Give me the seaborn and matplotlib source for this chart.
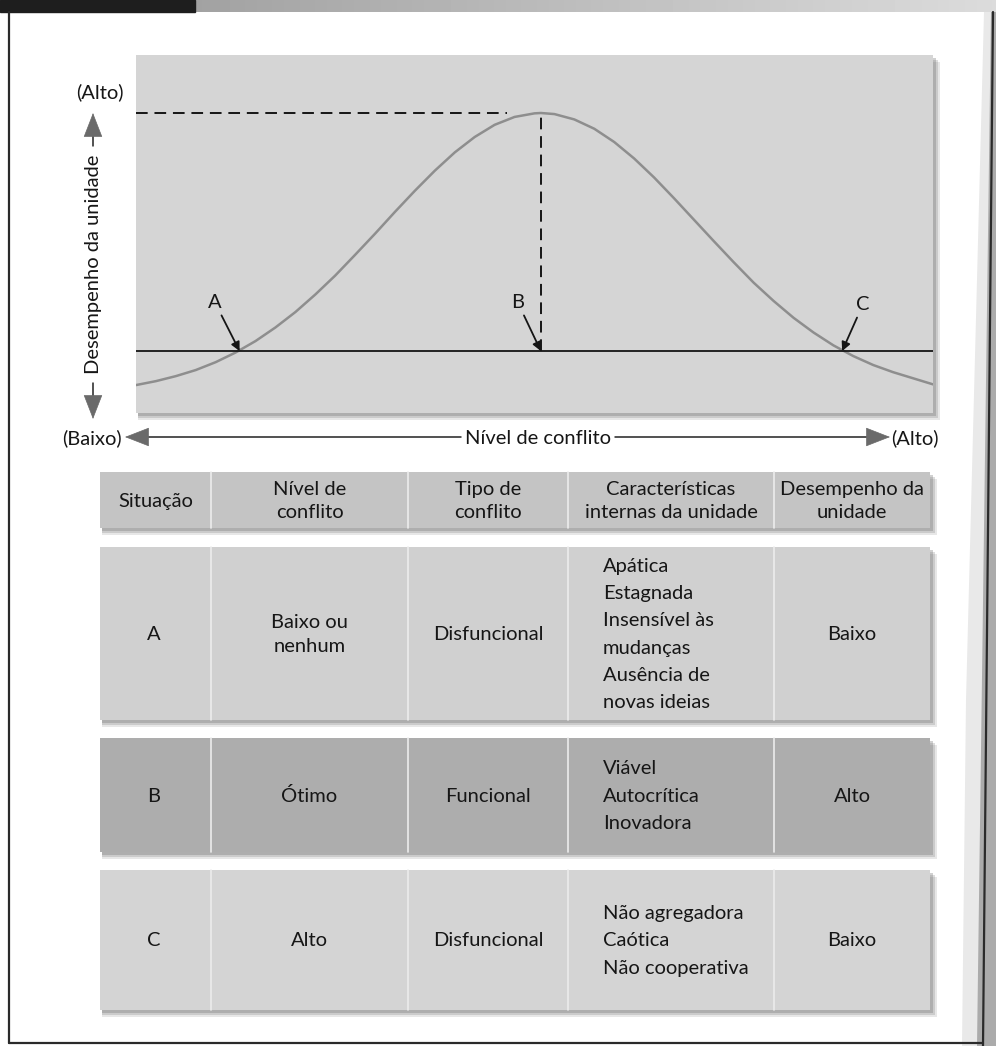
import numpy as np
import matplotlib
matplotlib.use("Agg")
import matplotlib.pyplot as plt
import seaborn as sns
from matplotlib.patches import Rectangle, Polygon

# ========= 1) DADOS =========
conflito = [0, 2.5, 5, 7.5, 10, 12.5, 15, 17.5, 20, 22.5, 25, 27.5, 30, 32.5, 35,
            37.5, 40, 42.5, 45, 47.5, 50, 50.8, 52.5, 55, 57.5, 60, 62.5, 65, 67.5,
            70, 72.5, 75, 77.5, 80, 82.5, 85, 87.5, 90, 92.5, 95, 97.5, 100]
desempenho = [7.8, 8.9, 10.3, 12.0, 14.2, 16.9, 20.1, 23.9, 28.2, 33.1, 38.4, 44.2,
              50.1, 56.2, 62.1, 67.7, 72.8, 77.1, 80.5, 82.7, 83.7, 83.8, 83.5, 82.0,
              79.4, 75.7, 71.1, 65.8, 60.0, 54.0, 48.0, 42.1, 36.4, 31.3, 26.6, 22.5,
              18.9, 15.9, 13.4, 11.4, 9.7, 8.0]
nivel_base = 17.3
pico_x = 50.8
pico_y = 83.8
pontos = ["A", "B", "C"]
pontos_x = [13.0, 50.8, 88.6]

cabecalho = ["Situação", "Nível de\nconflito", "Tipo de\nconflito",
             "Características\ninternas da unidade", "Desempenho da\nunidade"]
situacao = ["A", "B", "C"]
nivel_conflito = ["Baixo ou\nnenhum", "Ótimo", "Alto"]
tipo_conflito = ["Disfuncional", "Funcional", "Disfuncional"]
caracteristicas = [
    ["Apática", "Estagnada", "Insensível às", "mudanças", "Ausência de", "novas ideias"],
    ["Viável", "Autocrítica", "Inovadora"],
    ["Não agregadora", "Caótica", "Não cooperativa"],
]
desempenho_unidade = ["Baixo", "Alto", "Baixo"]

# ========= 2) ESTILO =========
sns.set_style("white")
plt.rcParams["font.family"] = ["Lato", "DejaVu Sans"]
TXT = "#161616"
FS = 14.5
LS = 1.45

W, H = 996, 1046
fig = plt.figure(figsize=(W / 100, H / 100), dpi=100)
fig.patch.set_facecolor("white")

# camada de fundo em pixels (moldura, tabela, eixos desenhados)
ov = fig.add_axes([0, 0, 1, 1], zorder=0)
ov.set_xlim(0, W)
ov.set_ylim(H, 0)
ov.axis("off")

# barra superior e moldura da página
grad = np.linspace(0.58, 0.86, 256).reshape(1, -1)
ov.imshow(grad, extent=[0, W, 12, 0], cmap="gray", vmin=0, vmax=1, aspect="auto", zorder=1)
ov.add_patch(Rectangle((0, 0), 195, 12, color="#1e1e1e", zorder=2))
ov.add_patch(Polygon([(984, 12), (996, 12), (996, H), (962, H), (966, 700)],
                     closed=True, color="#c8c8c8", alpha=0.4, lw=0, zorder=1))
ov.add_patch(Polygon([(991, 12), (996, 12), (996, H), (977, H)],
                     closed=True, color="#9c9c9c", alpha=0.8, lw=0, zorder=1))
ov.plot([9, 9], [12, 1043], color="#2a2a2a", lw=1.6, zorder=3)
ov.plot([9, 983], [1043, 1043], color="#2a2a2a", lw=1.6, zorder=3)
ov.plot([993, 983], [12, H], color="#2a2a2a", lw=1.6, zorder=3)


def caixa(x0, y0, x1, y1, cor):
    for off, al in [(7, 0.18), (5, 0.25), (3, 0.35)]:
        ov.add_patch(Rectangle((x0 + 2, y0 + off), x1 - x0 + off - 2, y1 - y0,
                               color="#7a7a7a", alpha=al, lw=0, zorder=2))
    ov.add_patch(Rectangle((x0, y0), x1 - x0, y1 - y0, color=cor, lw=0, zorder=3))


# sombra da área do gráfico
caixa(136, 55, 933, 413, "#d5d5d5")

# ========= 3) GRÁFICO =========
ax = fig.add_axes([136 / W, 1 - 413 / H, (933 - 136) / W, (413 - 55) / H], zorder=2)
ax.set_facecolor("#d5d5d5")
ax.set_xlim(0, 100)
ax.set_ylim(0, 100)
for s in ax.spines.values():
    s.set_visible(False)
ax.set_xticks([])
ax.set_yticks([])

sns.lineplot(x=conflito, y=desempenho, ax=ax, color="#8e8e8e", lw=1.8, zorder=3)
ax.axhline(nivel_base, color="#151515", lw=1.3, zorder=4)
ax.plot([0, 46.5], [pico_y, pico_y], color="#151515", lw=1.4, ls=(0, (6, 3.5)), zorder=4)
ax.plot([pico_x, pico_x], [nivel_base, pico_y], color="#151515", lw=1.4,
        ls=(0, (6, 3.5)), zorder=4)

offsets = {"A": (-3.1, 13.6), "B": (-2.9, 13.6), "C": (2.6, 13.0)}
for p, px in zip(pontos, pontos_x):
    dx, dy = offsets[p]
    ax.annotate(p, xy=(px, nivel_base), xytext=(px + dx, nivel_base + dy),
                ha="center", va="center", fontsize=FS, color=TXT,
                arrowprops=dict(arrowstyle="-|>", color="#151515", lw=1.3,
                                mutation_scale=13, shrinkA=1, shrinkB=0))

# ========= 4) EIXOS DESENHADOS =========
def seta(tip, base):
    ov.annotate("", xy=tip, xytext=base,
                arrowprops=dict(arrowstyle="-|>,head_length=0.9,head_width=0.35",
                                color="#6a6a6a", lw=0.5, mutation_scale=18,
                                shrinkA=0, shrinkB=0), zorder=4)


ov.text(100, 92, "(Alto)", ha="center", va="center", fontsize=FS, color=TXT, zorder=4)
ov.plot([93, 93], [128, 146], color="#222222", lw=1.1, zorder=4)
seta((93, 113), (93, 131))
ov.text(93, 264, "Desempenho da unidade", rotation=90, ha="center", va="center",
        fontsize=FS, color=TXT, zorder=4)
ov.plot([93, 93], [383, 402], color="#222222", lw=1.1, zorder=4)
seta((93, 419), (93, 399))
ov.text(92, 438, "(Baixo)", ha="center", va="center", fontsize=FS, color=TXT, zorder=4)

ov.plot([140, 461], [437, 437], color="#222222", lw=1.1, zorder=4)
seta((125, 437), (144, 437))
ov.text(538, 438, "Nível de conflito", ha="center", va="center", fontsize=FS,
        color=TXT, zorder=4)
ov.plot([615, 874], [437, 437], color="#222222", lw=1.1, zorder=4)
seta((890, 437), (870, 437))
ov.text(915, 438, "(Alto)", ha="center", va="center", fontsize=FS, color=TXT, zorder=4)

# ========= 5) TABELA =========
col_x = [100, 211, 408, 568, 774, 930]
linhas_y = [(472, 528), (547, 720), (738, 852), (870, 1010)]
cores = ["#c4c4c4", "#d0d0d0", "#adadad", "#d4d4d4"]
centros = [(col_x[i] + col_x[i + 1]) / 2 for i in range(5)]
x_carac = 603
passo = 27.2

for (y0, y1), cor in zip(linhas_y, cores):
    caixa(col_x[0], y0, col_x[-1], y1, cor)
    for cx in col_x[1:-1]:
        ov.plot([cx, cx], [y0, y1], color="#ececec", lw=1.2, zorder=4)

y0, y1 = linhas_y[0]
for i, t in enumerate(cabecalho):
    cx = centros[i] if i != 3 else 671
    ov.text(cx, (y0 + y1) / 2 + 1, t, ha="center", va="center", fontsize=FS,
            color=TXT, linespacing=LS, zorder=5)

for r in range(3):
    y0, y1 = linhas_y[r + 1]
    ym = (y0 + y1) / 2 + 1
    ov.text(centros[0] - 2, ym, situacao[r], ha="center", va="center", fontsize=FS, color=TXT, zorder=5)
    ov.text(centros[1], ym, nivel_conflito[r], ha="center", va="center", fontsize=FS,
            color=TXT, linespacing=LS, zorder=5)
    ov.text(centros[2], ym, tipo_conflito[r], ha="center", va="center", fontsize=FS, color=TXT, zorder=5)
    n = len(caracteristicas[r])
    for k, linha in enumerate(caracteristicas[r]):
        yk = ym + (k - (n - 1) / 2) * passo
        ov.text(x_carac, yk, linha, ha="left", va="center", fontsize=FS, color=TXT, zorder=5)
    ov.text(centros[4], ym, desempenho_unidade[r], ha="center", va="center", fontsize=FS,
            color=TXT, zorder=5)

fig.savefig("out.png", dpi=100)
